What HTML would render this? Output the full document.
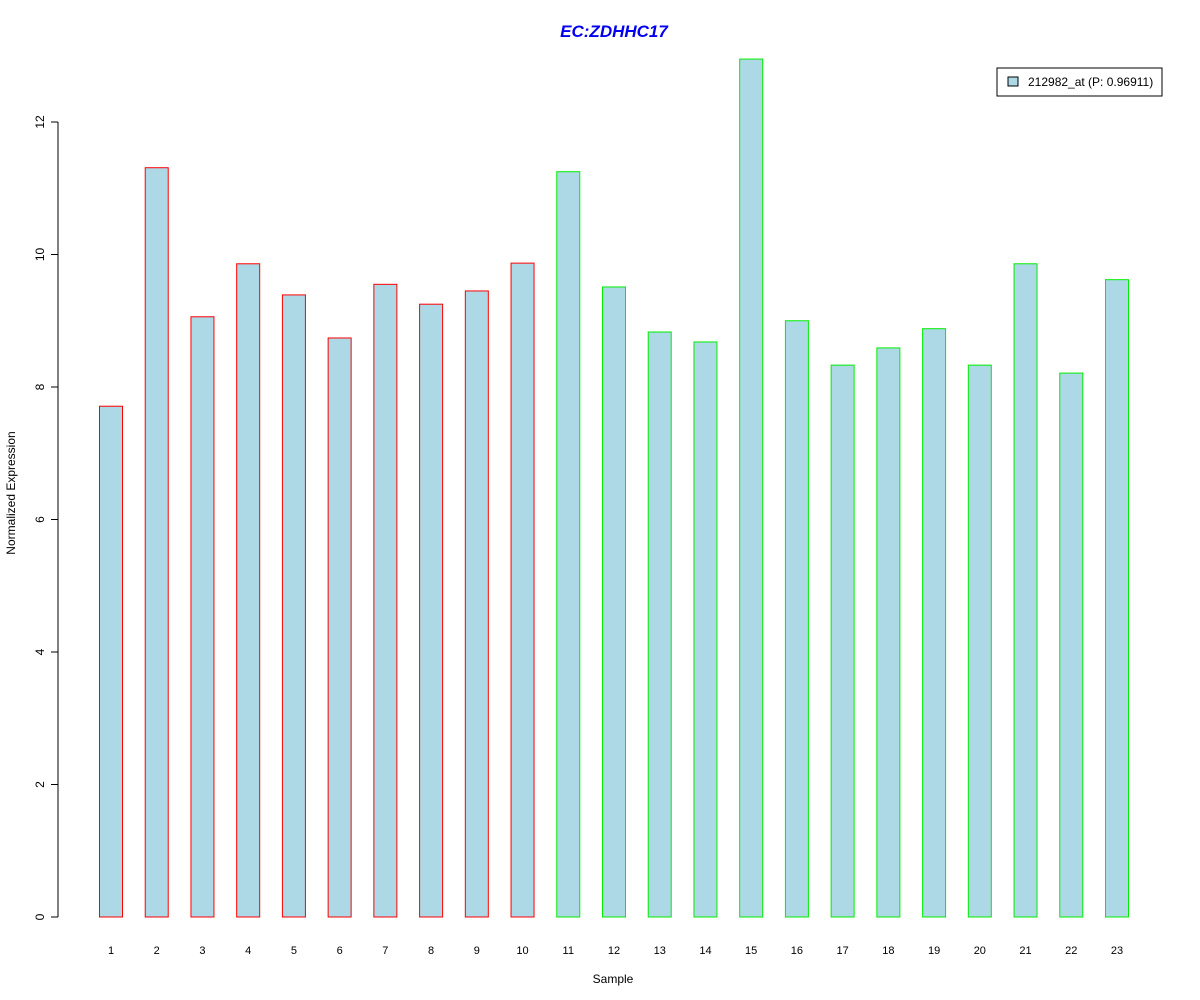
<!DOCTYPE html>
<html><head><meta charset="utf-8"><style>
body{margin:0;background:#fff;}
svg{display:block;font-family:"Liberation Sans",Arial,sans-serif;}
</style></head><body>
<svg id="chart" width="1200" height="1000">
<text x="614" y="37" text-anchor="middle" font-size="17" font-weight="bold" font-style="italic" fill="#0000ee">EC:ZDHHC17</text>
<text x="613" y="983" text-anchor="middle" font-size="12">Sample</text>
<text transform="translate(15,493) rotate(-90)" text-anchor="middle" font-size="12">Normalized Expression</text>
<g id="yaxis"></g>
<g id="bars"></g>
<g id="xlabels"></g>
<g>
<rect x="997" y="68" width="165" height="28" fill="#fff" stroke="#000"/>
<rect x="1008" y="77" width="10" height="9" fill="#add8e6" stroke="#000"/>
<text x="1028" y="86" font-size="12">212982_at (P: 0.96911)</text>
</g>
</svg>
<script>
const categories = ["1","2","3","4","5","6","7","8","9","10","11","12","13","14","15","16","17","18","19","20","21","22","23"];
const values = [7.71,11.31,9.06,9.86,9.39,8.74,9.55,9.25,9.45,9.87,11.25,9.51,8.83,8.68,12.95,9.0,8.33,8.59,8.88,8.33,9.86,8.21,9.62];
const groups = ["a","a","a","a","a","a","a","a","a","a","b","b","b","b","b","b","b","b","b","b","b","b","b"];
const yTicks = [0,2,4,6,8,10,12];
const NS="http://www.w3.org/2000/svg";
const y0=917, pxPer=(917-122)/12;
function yScale(v){return y0-v*pxPer;}
function xScale(i){return 111+i*(1117-111)/22;}
const bw=23;
const ya=document.getElementById('yaxis');
function mk(t,a,p){const e=document.createElementNS(NS,t);for(const k in a)e.setAttribute(k,a[k]);p.appendChild(e);return e;}
const ax=mk('line',{x1:58,x2:58,y1:yScale(0),y2:yScale(12),stroke:'#000'},ya);


yTicks.forEach(v=>{
 const l=mk('line',{x1:51,x2:58,y1:yScale(v),y2:yScale(v),stroke:'#000'},ya);
 
 
 const t=mk('text',{transform:`translate(44,${yScale(v)}) rotate(-90)`,'text-anchor':'middle','font-size':12},ya);
 t.textContent=v;
 
 
});
const bg=document.getElementById('bars'), xl=document.getElementById('xlabels');
values.forEach((v,i)=>{
 const r=mk('rect',{x:xScale(i)-bw/2,y:yScale(v),width:bw,height:yScale(0)-yScale(v),fill:'#add8e6',stroke:groups[i]==='a'?'#ff0000':'#00ee00'},bg);
 
 
 const t=mk('text',{x:xScale(i),y:954,'text-anchor':'middle','font-size':11},xl);
 t.textContent=categories[i];
 
 
});
</script>
</body></html>
